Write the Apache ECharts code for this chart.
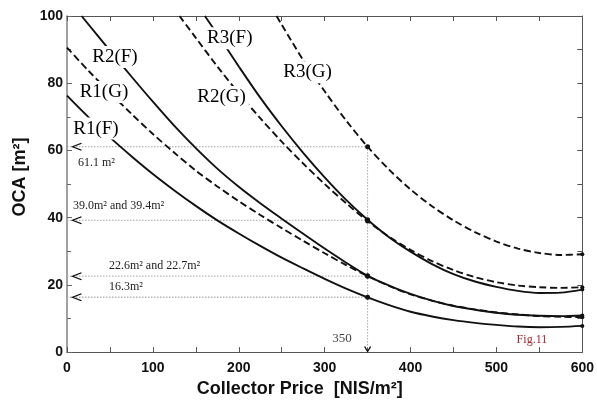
<!DOCTYPE html>
<html>
<head>
<meta charset="utf-8">
<script src="https://cdn.jsdelivr.net/npm/echarts@6/dist/echarts.min.js"></script>
<style>
  html, body { margin: 0; padding: 0; background: #fff; }
  #chart { width: 597px; height: 403px; }
</style>
</head>
<body>
<div id="chart"></div>
<script>
// OCA versus collector price, for three regions (R1-R3) and two collector types (F, G)
const R1F = [[0,76.3],[25,69.9],[50,63.9],[75,58.3],[100,53.0],[125,48.1],[150,43.5],[175,39.2],[200,35.3],[225,31.6],[250,28.1],[275,24.9],[300,21.8],[325,18.9],[350,16.3],[375,14.0],[400,12.0],[425,10.6],[450,9.5],[475,8.7],[500,8.1],[525,7.6],[550,7.4],[575,7.5],[600,7.8]];
const R1G = [[0,90.6],[25,83.7],[50,77.2],[75,70.9],[100,64.9],[125,59.3],[150,54.0],[175,49.3],[200,44.9],[225,40.8],[250,36.9],[275,33.1],[300,29.4],[325,25.9],[350,22.6],[375,19.7],[400,17.2],[425,15.3],[450,13.8],[475,12.7],[500,11.8],[525,11.2],[550,10.7],[575,10.5],[600,10.4]];
const R2F = [[17,100],[50,89.7],[75,82.0],[100,74.5],[125,67.3],[150,60.7],[175,54.6],[200,49.2],[225,44.3],[250,39.7],[275,35.2],[300,30.8],[325,26.6],[350,22.7],[375,19.8],[400,17.3],[425,15.3],[450,13.7],[475,12.6],[500,11.7],[525,11.1],[550,10.8],[575,10.7],[600,10.9]];
const R2G = [[131,100],[150,93.5],[175,85.0],[200,77.0],[225,69.6],[250,62.6],[275,56.1],[300,50.0],[325,44.3],[350,39.0],[375,34.3],[400,30.4],[425,27.1],[450,24.4],[475,22.3],[500,20.8],[525,19.8],[550,19.3],[575,19.1],[600,19.3]];
const R3F = [[160.5,100],[175,94.6],[200,85.0],[225,75.7],[250,67.2],[275,59.3],[300,52.0],[325,45.3],[350,39.4],[375,34.2],[400,29.9],[425,26.2],[450,23.2],[475,21.0],[500,19.4],[525,18.2],[550,17.6],[575,17.7],[600,18.6]];
const R3G = [[244,100],[250,97.4],[275,86.9],[300,77.6],[325,68.9],[350,61.1],[375,54.3],[400,48.4],[425,43.4],[450,39.2],[475,35.7],[500,32.9],[525,30.8],[550,29.5],[575,28.9],[600,29.1]];

// reading at a collector price of 350 NIS/m2
const chosenPrice = 350;
const readValues = [61.1, 39.4, 39.0, 22.7, 22.6, 16.3];
const guideLevels = [61.1, 39.2, 22.6, 16.3];

const curveNames = ['R1(F)', 'R1(G)', 'R2(F)', 'R2(G)', 'R3(F)', 'R3(G)'];
const curveData = [R1F, R1G, R2F, R2G, R3F, R3G];
const curveDashed = [false, true, false, true, false, true];
// where each curve's name is written (price, OCA)
const tagAnchors = [[33.7,66.5],[43,77.4],[55.8,87.8],[180,75.9],[189.5,93.4],[280,83.3]];

const noteTexts = ['61.1 m²', '39.0m² and 39.4m²', '22.6m² and 22.7m²', '16.3m²'];
const noteAnchors = [[12.8,56.4],[7,43.6],[48.8,25.6],[48.8,19.3]];

const xTicks = { min: 0, max: 600, step: 100 };
const yTicks = { min: 0, max: 100, step: 20 };

const chart = echarts.init(document.getElementById('chart'), null, { renderer: 'canvas' });

const sans = "'Liberation Sans', Arial, sans-serif";
const serif = "'Liberation Serif', 'Times New Roman', serif";
const ink = '#111';

const series = [];

// main curves
curveData.forEach((d, i) => {
  series.push({
    type: 'line',
    name: curveNames[i],
    data: d,
    smooth: 0.3,
    showSymbol: false,
    silent: true,
    clip: true,
    z: 3,
    lineStyle: { color: ink, width: 1.9, type: curveDashed[i] ? [7, 3.6] : 'solid' }
  });
});

// dotted guide lines from the axis to the 350 reading
guideLevels.forEach((v, i) => {
  const pts = [[xTicks.min, v], [chosenPrice, v]];
  if (i === 0) pts.push([chosenPrice, yTicks.min]);
  series.push({
    type: 'line',
    data: pts,
    showSymbol: false,
    silent: true,
    z: 2,
    lineStyle: { color: i === 0 ? '#8a8a8a' : '#b5b5b5', width: i === 0 ? 0.8 : 1.4, type: [1.5, 1.5] }
  });
});

// left-pointing chevrons at the axis end of each guide
series.push({
  type: 'scatter',
  data: guideLevels.map(v => [xTicks.min, v]),
  symbol: 'path://M9,0 L0,4 L9,8',
  symbolSize: [9, 7],
  symbolOffset: [10, 0],
  silent: true,
  z: 4,
  itemStyle: { color: 'rgba(0,0,0,0)', borderColor: ink, borderWidth: 1.3, opacity: 1 }
});
// downward chevron at the chosen price
series.push({
  type: 'scatter',
  data: [[chosenPrice, yTicks.min]],
  symbol: 'path://M0,0 L4,7 L8,0',
  symbolSize: [6, 5],
  symbolOffset: [0, -3],
  silent: true,
  z: 4,
  itemStyle: { color: 'rgba(0,0,0,0)', borderColor: ink, borderWidth: 1.2, opacity: 1 }
});

// reading points at 350
series.push({
  type: 'scatter',
  data: readValues.map(v => [chosenPrice, v]),
  symbol: 'circle',
  symbolSize: 5,
  silent: true,
  z: 6,
  itemStyle: { color: ink, opacity: 1 }
});
// end points at 600
series.push({
  type: 'scatter',
  data: curveData.map(d => d[d.length - 1]),
  symbol: 'circle',
  symbolSize: 4,
  silent: true,
  z: 6,
  itemStyle: { color: ink, opacity: 1 }
});

// curve names, on a white ground that breaks the line beneath
series.push({
  type: 'scatter',
  data: tagAnchors.map((p, i) => ({ value: p, name: curveNames[i] })),
  symbolSize: 0,
  silent: true,
  z: 8,
  itemStyle: { opacity: 1 },
  label: {
    show: true,
    position: 'inside',
    formatter: '{b}',
    fontFamily: serif,
    fontSize: 19,
    color: '#000',
    backgroundColor: '#fff',
    padding: [2, 3, 1, 3]
  }
});

// value notes
series.push({
  type: 'scatter',
  data: noteAnchors.map((p, i) => ({ value: p, name: noteTexts[i] })),
  symbolSize: 0,
  silent: true,
  z: 8,
  itemStyle: { opacity: 1 },
  label: {
    show: true,
    position: 'inside',
    align: 'left',
    formatter: '{b}',
    fontFamily: serif,
    fontSize: 12,
    color: '#222'
  }
});

// price marker text and figure number
series.push({
  type: 'scatter',
  data: [{ value: [320.3, 4.0], name: '350' }],
  symbolSize: 0,
  silent: true,
  z: 8,
  itemStyle: { opacity: 1 },
  label: { show: true, position: 'inside', formatter: '{b}', fontFamily: serif, fontSize: 13, color: '#444' }
});
series.push({
  type: 'scatter',
  data: [{ value: [541.3, 3.7], name: 'Fig.11' }],
  symbolSize: 0,
  silent: true,
  z: 8,
  itemStyle: { opacity: 1 },
  label: { show: true, position: 'inside', formatter: '{b}', fontFamily: serif, fontSize: 12, color: '#a3272e' }
});

const tickLabel = { fontFamily: sans, fontWeight: 'bold', fontSize: 14, color: ink };

chart.setOption({
  animation: false,
  backgroundColor: '#fff',
  grid: { left: 67, right: 14, top: 16, bottom: 50, containLabel: false },
  xAxis: [
    {
      type: 'value', min: xTicks.min, max: xTicks.max, interval: xTicks.step,
      position: 'bottom',
      name: 'Collector Price  [NIS/m²]',
      nameLocation: 'middle', nameGap: 27,
      nameTextStyle: { fontFamily: sans, fontWeight: 'bold', fontSize: 18, color: ink, padding: [0, 50, 0, 0] },
      axisLine: { show: true, onZero: false, lineStyle: { color: '#555', width: 1.2 } },
      axisTick: { show: true, inside: true, length: 5, lineStyle: { color: '#555' } },
      minorTick: { show: true, splitNumber: 2, length: 5, lineStyle: { color: '#555' } },
      axisLabel: Object.assign({ margin: 9 }, tickLabel),
      splitLine: { show: false }
    },
    {
      type: 'value', min: xTicks.min, max: xTicks.max, interval: 50,
      position: 'top',
      axisLine: { show: true, onZero: false, lineStyle: { color: '#555', width: 1 } },
      axisTick: { show: true, inside: true, length: 5, lineStyle: { color: '#555' } },
      axisLabel: { show: false },
      splitLine: { show: false }
    }
  ],
  yAxis: [
    {
      type: 'value', min: yTicks.min, max: yTicks.max, interval: yTicks.step,
      position: 'left',
      name: 'OCA [m²]',
      nameLocation: 'middle', nameGap: 33, nameRotate: 90,
      nameTextStyle: { fontFamily: sans, fontWeight: 'bold', fontSize: 18, color: ink, padding: [0, 0, 0, 14] },
      axisLine: { show: true, onZero: false, lineStyle: { color: '#8a8a8a', width: 1.6 } },
      axisTick: { show: true, inside: true, length: 5, lineStyle: { color: '#666' } },
      minorTick: { show: true, splitNumber: 2, length: 4, lineStyle: { color: '#666' } },
      axisLabel: Object.assign({ margin: 4 }, tickLabel),
      splitLine: { show: false }
    },
    {
      type: 'value', min: yTicks.min, max: yTicks.max, interval: 10,
      position: 'right',
      axisLine: { show: true, onZero: false, lineStyle: { color: '#555', width: 1 } },
      axisTick: { show: true, inside: true, length: 5, lineStyle: { color: '#555' } },
      axisLabel: { show: false },
      splitLine: { show: false }
    }
  ],
  series: series
});
</script>
</body>
</html>
